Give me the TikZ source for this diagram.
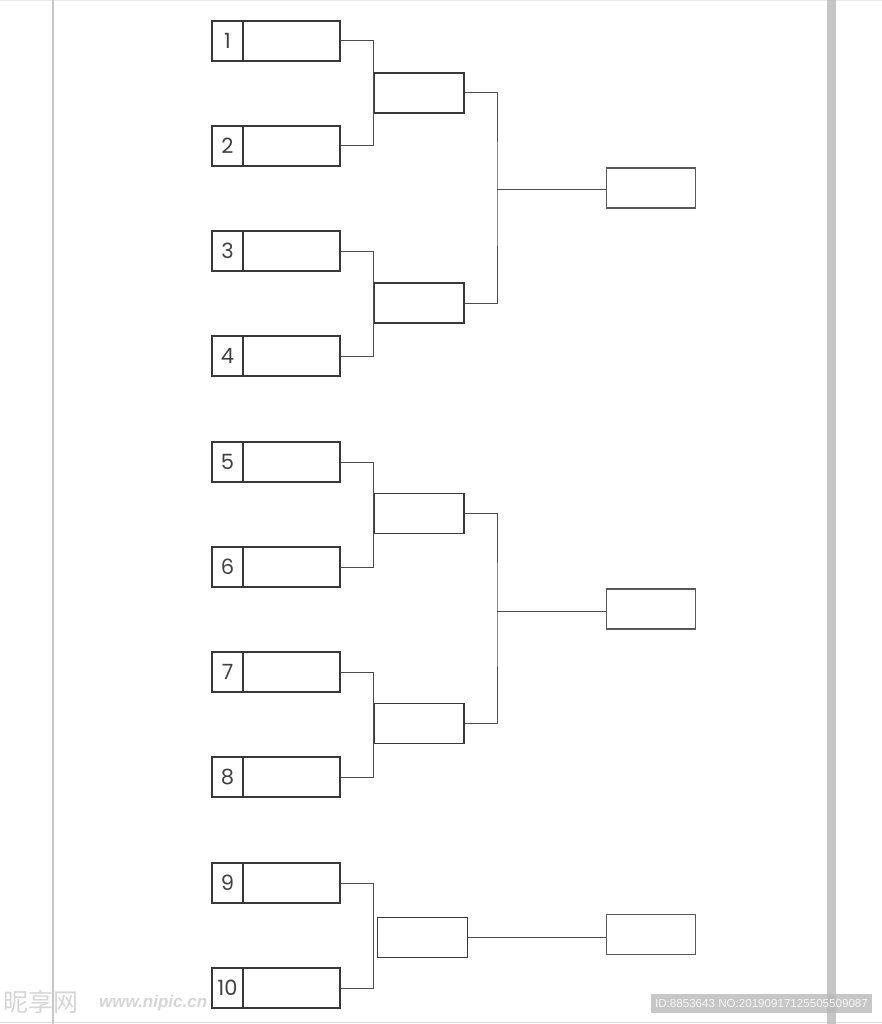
\documentclass[tikz,border=0pt]{standalone}
\usepackage{fontspec}
\setmainfont{Poppins}
\newfontfamily\wmfont{Liberation Sans}
\newfontfamily\cjkfont{Noto Sans CJK SC}
\begin{document}
\begin{tikzpicture}[x=1pt,y=-1pt,
  boxline/.style={draw=black!78, line width=1.3pt},
  entrybox/.style={boxline, rectangle, minimum width=128pt, minimum height=40pt, inner sep=0pt},
  numcell/.style={boxline, rectangle, minimum width=31pt, minimum height=40pt, inner sep=0pt,
    font=\fontsize{21}{21}\selectfont, text=black!75},
  winbox/.style={boxline, rectangle, minimum width=90pt, minimum height=40pt, inner sep=0pt},
  finalbox/.style={draw=black!65, line width=1.1pt, rectangle, minimum width=89pt, minimum height=40pt, inner sep=0pt},
  link/.style={draw=black!70, line width=1.0pt}]
\useasboundingbox (0,0) rectangle (882,1024);
\fill[white] (0,0) rectangle (882,1024);
% page frame
\draw[black!8, line width=0.8pt] (0,0.6) -- (882,0.6);
\draw[black!12, line width=0.8pt] (0,1022) -- (882,1022);
\draw[black!22, line width=1.8pt] (53,0) -- (53,1024);
% watermarks
\node[fill=black!22, minimum width=221pt, minimum height=19pt, inner sep=0pt] (wmbox) at (761.5,1003.5) {};
\fill[black!28, fill opacity=0.8] (827,0) rectangle (836,1024);
\node[text=black!4, font=\wmfont\fontsize{11.6}{12}\selectfont, inner sep=0pt] (wm) at (wmbox.center)
  {ID:8853643 NO:20190917125505509087};
\node[text=black!16, font=\cjkfont\fontsize{25}{25}\selectfont, anchor=west, inner sep=0pt] (wmcn) at (3,1002) {昵享网};
\node[text=black!16, font=\wmfont\bfseries\itshape\fontsize{17}{17}\selectfont, anchor=west, inner sep=0pt] (wmurl) at (99,1003) {www.nipic.cn};
% first round entries
\foreach \i/\y in {1/41,2/146,3/251,4/356,5/462,6/567,7/672,8/777,9/883,10/988} {
  \node[entrybox] (e\i) at (276,\y) {};
  \node[numcell, anchor=west] (n\i) at (e\i.west) {\i};
}
% second round
\node[winbox] (r1) at (419,93) {};
\node[winbox] (r2) at (419,303) {};
\node[winbox] (r3) at (419,513.5) {};
\node[winbox] (r4) at (419,723.5) {};
\node[winbox] (r5) at (422.5,937.5) {};
% finals
\node[finalbox] (f1) at (650.75,188) {};
\node[finalbox] (f2) at (650.75,609) {};
\node[finalbox] (f3) at (650.75,934.5) {};
% first round connectors
\foreach \a/\b in {1/2,3/4,5/6,7/8,9/10} {
  \draw[link] (e\a.east) -- ++(33,0) |- (e\b.east);
}
% second round connectors
\coordinate (j1) at (497,190);
\coordinate (j2) at (497,611);
\draw[link] (r1.east) -| (j1) |- (r2.east);
\draw[link] (j1) -- (j1 -| f1.west);
\draw[link] (r3.east) -| (j2) |- (r4.east);
\draw[link] (j2) -- (j2 -| f2.west);
\draw[link] (r5.east) -- (r5.east -| f3.west);
\end{tikzpicture}
\end{document}
